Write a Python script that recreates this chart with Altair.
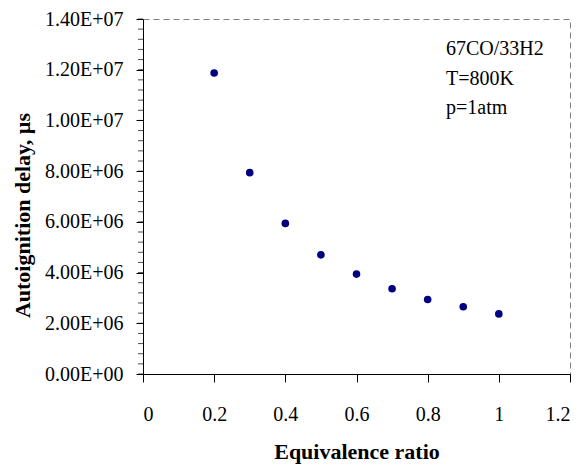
import altair as alt
import pandas as pd

phi = [0.2, 0.3, 0.4, 0.5, 0.6, 0.7, 0.8, 0.9, 1.0]
delay = [11.87e6, 7.94e6, 5.94e6, 4.70e6, 3.94e6, 3.36e6, 2.94e6, 2.65e6, 2.37e6]
x_ticks = [0, 0.2, 0.4, 0.6, 0.8, 1.0, 1.2]
y_ticks = [0, 2e6, 4e6, 6e6, 8e6, 10e6, 12e6, 14e6]
y_minor = [i * 4e5 for i in range(36)]
note = "67CO/33H2\nT=800K\np=1atm"

df = pd.DataFrame({"phi": phi, "delay": delay})
FONT = "Liberation Serif"

xscale = alt.Scale(domain=[0, 1.2], nice=False, zero=False)
yscale = alt.Scale(domain=[0, 1.4e7], nice=False)

y_axis = alt.Axis(values=y_ticks, title="Autoignition delay, µs", grid=False,
                  labelExpr="replace(format(datum.value, '.2e'), 'e+', 'E+0')",
                  domainColor="black", tickColor="black", tickSize=7,
                  labelPadding=13, labelFontSize=20, labelFont=FONT,
                  labelColor="black", titleFont=FONT, titleFontSize=22,
                  titleFontWeight="bold", titleColor="black",
                  titleX=-121, titleY=196, titleBaseline="middle")

points = alt.Chart(df).mark_circle(size=58, color="#000080", opacity=1).encode(
    x=alt.X("phi:Q", scale=xscale,
            axis=alt.Axis(values=x_ticks, title="Equivalence ratio", grid=False,
                          labelExpr="datum.value == 1 ? '1' : format(datum.value, '.1~f')",
                          domainColor="black", tickColor="black", tickSize=8,
                          labelPadding=22, labelFontSize=20, labelFont=FONT,
                          labelColor="black", titleFont=FONT, titleFontSize=22,
                          titleFontWeight="bold", titleColor="black",
                          titleY=84, titleBaseline="alphabetic")),
    y=alt.Y("delay:Q", scale=yscale, axis=y_axis),
)

minor = alt.Chart(pd.DataFrame({"v": y_minor})).mark_tick(
    orient="horizontal", color="black", thickness=1, size=5
).encode(
    y=alt.Y("v:Q", scale=yscale, axis=y_axis),
    x=alt.value(-2.5),
)

label = alt.Chart(pd.DataFrame({"t": [note]})).mark_text(
    align="left", baseline="alphabetic", font=FONT, fontSize=20,
    lineBreak="\n", lineHeight=29.5, color="black"
).encode(text="t:N", x=alt.value(303), y=alt.value(36))

chart = alt.layer(minor, points, label).properties(
    width=427, height=355,
    autosize=alt.AutoSizeParams(type="none"),
    padding={"left": 135, "top": 11, "right": 6, "bottom": 90},
).configure_view(
    stroke="#808080", strokeDash=[6, 4], strokeWidth=1
)

chart.save("out.html", embed_options={"renderer": "svg", "actions": False})
